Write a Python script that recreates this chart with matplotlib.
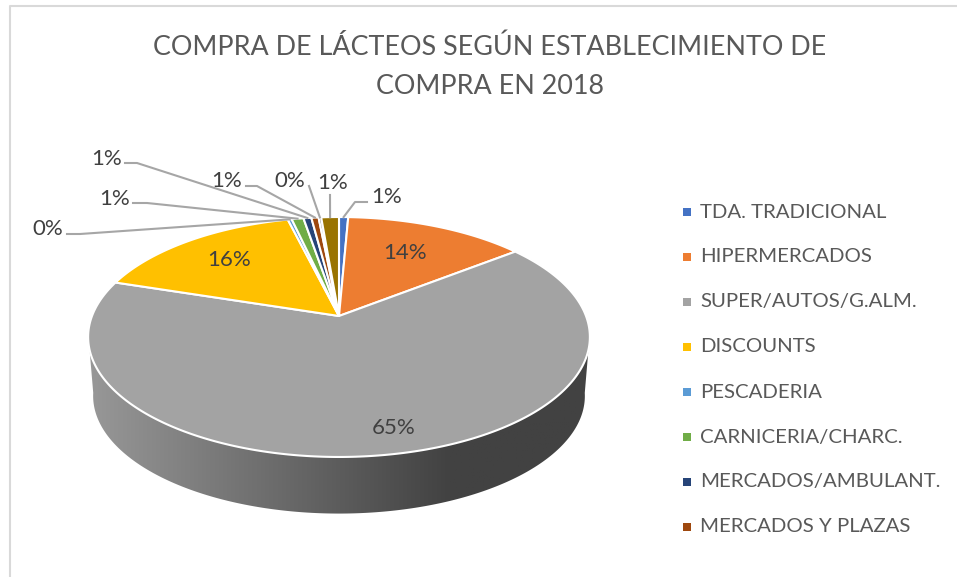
import numpy as np
import matplotlib
matplotlib.use('Agg')
import matplotlib.pyplot as plt
from matplotlib.colors import LinearSegmentedColormap
from matplotlib.patches import Polygon

plt.rcParams['font.family'] = ['Lato', 'DejaVu Sans']

title_lines = ['COMPRA DE LÁCTEOS SEGÚN ESTABLECIMIENTO DE', 'COMPRA EN 2018']
# the legend of the source is cut off after eight names, the last two slices have none
categories = ['TDA. TRADICIONAL', 'HIPERMERCADOS', 'SUPER/AUTOS/G.ALM.', 'DISCOUNTS',
              'PESCADERIA', 'CARNICERIA/CHARC.', 'MERCADOS/AMBULANT.', 'MERCADOS Y PLAZAS']
values = [0.7, 13.8, 65.4, 16.2, 0.3, 0.9, 0.6, 0.55, 0.2, 1.35]
colors = ['#4472C4', '#ED7D31', '#A3A3A3', '#FFC000', '#5B9BD5', '#70AD47', '#264478',
          '#9E480E', '#636363', '#997300']

# pixel layout of the picture
cx, cy = 339, 316
k = 0.175
a = 116.3
b = 247
wall_drop = 59
wall_scale = 0.98

# label place and leader elbow for every slice, None = no leader
label_xy = [(387, 197), (405, 253), (394, 428), (229, 260), (48, 229),
            (115, 199), (107, 159), (227, 181), (290, 181), (333, 183)]
elbows = [[(367, 202), (355, 202)], None, None, None, [(67, 234), (80, 234)],
          [(133, 203), (147, 203)], [(125, 163), (137, 163)], [(246, 186), (257, 186)],
          [(309, 186)], [(330, 195)]]


def project(theta):
    # clockwise from the top of the pie, with the tilt of the 3D view
    x = np.sin(theta)
    y = np.cos(theta)
    d = 1 + k * y
    return cx + b * x / d, cy - a * y / d


fig = plt.figure(figsize=(9.57, 5.77), dpi=100)
ax = fig.add_axes([0, 0, 1, 1])

# chart border, only the top and left show
ax.plot([957, 10, 10], [6, 6, 577], color='#D9D9D9', lw=1.5, zorder=1)

# side wall with its dark gradient
t = np.linspace(np.pi / 2 + 0.15, 3 * np.pi / 2 - 0.15, 300)
rim_x, rim_y = project(t)
low_x = cx + (rim_x - cx) * wall_scale
low_y = 337 + wall_drop + (rim_y - 337) * wall_scale
wall = Polygon(np.column_stack([np.r_[rim_x, low_x[::-1]], np.r_[rim_y, low_y[::-1]]]),
               closed=True, transform=ax.transData, fc='none', ec='none')
ax.add_patch(wall)
wall_cmap = LinearSegmentedColormap.from_list(
    'wall', [(0, '#424242'), (0.28, '#424242'), (1, '#989898')])
shade = np.linspace(1, 0, 256).reshape(1, -1)
img = ax.imshow(shade, extent=(88, 590, 514, 330), cmap=wall_cmap, aspect='auto', zorder=2)
img.set_clip_path(wall)

# top of the pie
edges = np.r_[0, np.cumsum(values)] / np.sum(values) * 2 * np.pi
for i in range(len(values)):
    n = max(int((edges[i + 1] - edges[i]) * 80), 2)
    th = np.linspace(edges[i], edges[i + 1], n)
    px, py = project(th)
    ax.fill(np.r_[cx, px], np.r_[cy, py], fc=colors[i], ec='white', lw=1.5,
            joinstyle='round', zorder=3)

# data labels and leaders
for i in range(len(values)):
    ax.text(label_xy[i][0], label_xy[i][1], '%.0f%%' % round(values[i] + 1e-9), fontsize=16,
            color='#404040', ha='center', va='center', zorder=5)
    if elbows[i] is not None:
        ex, ey = project((edges[i] + edges[i + 1]) / 2)
        pts = elbows[i] + [(ex, ey)]
        ax.plot([p[0] for p in pts], [p[1] for p in pts], color='#A6A6A6', lw=1.5, zorder=4)

# legend
for i in range(len(categories)):
    y = 212 + i * 45
    ax.scatter([687], [y], marker='s', s=34, color=colors[i], linewidths=0, zorder=5)
    ax.text(700, y, categories[i], fontsize=14.7, color='#595959', ha='left', va='center')

ax.text(490, 47, title_lines[0], fontsize=19.4, color='#595959', ha='center', va='center')
ax.text(490, 87, title_lines[1], fontsize=19.4, color='#595959', ha='center', va='center')

ax.set_xlim(0, 957)
ax.set_ylim(577, 0)
ax.axis('off')
fig.savefig('out.png', dpi=100)
